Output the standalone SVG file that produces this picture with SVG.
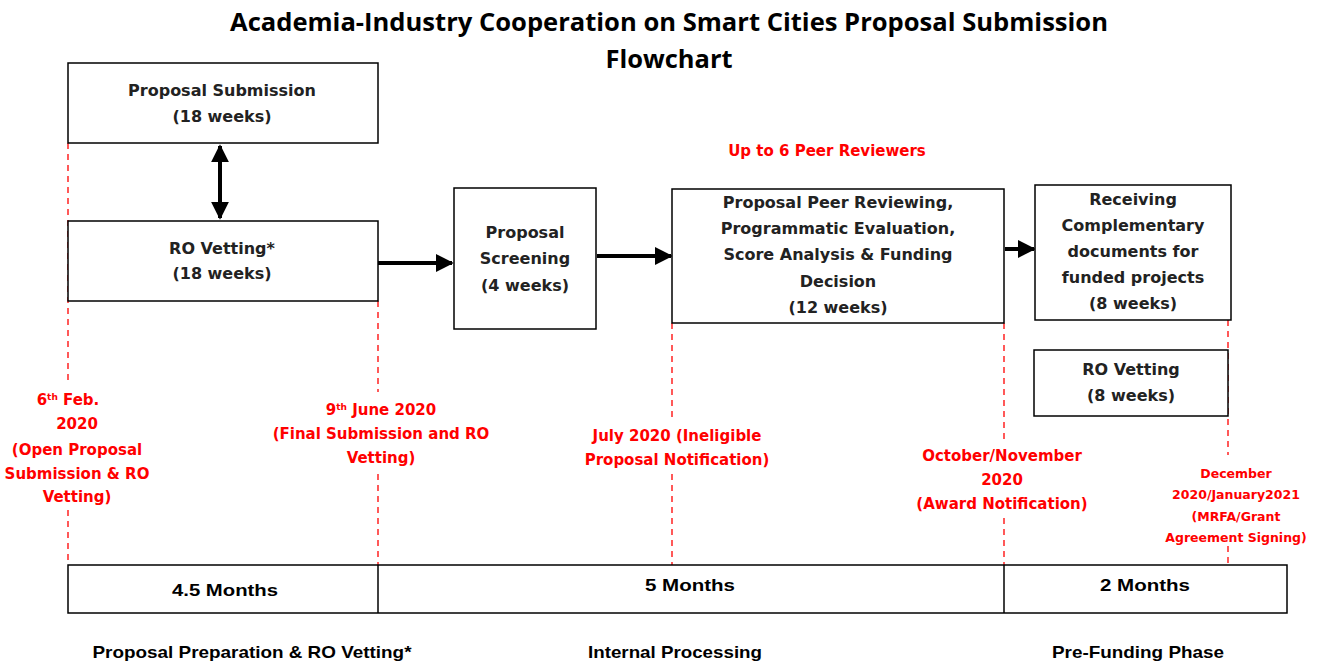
<svg xmlns="http://www.w3.org/2000/svg" width="1319" height="662" viewBox="0 0 1319 662">
<style>
.box{fill:#fff;stroke:#000;stroke-width:1.5}
.bt{font-family:"DejaVu Sans","Liberation Sans",sans-serif;font-weight:bold;font-size:16px;fill:#222;text-anchor:middle}
.rt{font-family:"DejaVu Sans","Liberation Sans",sans-serif;font-weight:bold;font-size:15px;fill:#f00;text-anchor:middle}
.rs{font-family:"DejaVu Sans","Liberation Sans",sans-serif;font-weight:bold;font-size:12.5px;fill:#f00;text-anchor:middle}
.ti{font-family:"Open Sans","DejaVu Sans",sans-serif;font-weight:bold;font-size:25px;fill:#000;text-anchor:middle}
.nt{font-family:"Liberation Sans Narrow","Liberation Sans",sans-serif;font-weight:bold;font-size:17px;fill:#000;text-anchor:middle}
.dash{stroke:#f00;stroke-width:1.3;stroke-dasharray:6,5;fill:none}
.arr{stroke:#000;stroke-width:4;fill:none}
</style>
<defs>
<marker id="ah" viewBox="0 0 10 10" refX="9" refY="5" markerWidth="4.5" markerHeight="4.5" orient="auto-start-reverse" markerUnits="strokeWidth">
<path d="M0,0 L10,5 L0,10 z" fill="#000"/>
</marker>
</defs>
<rect width="1319" height="662" fill="#fff"/>
<g id="title">
<text class="ti" x="669" y="31" textLength="878" lengthAdjust="spacingAndGlyphs">Academia-Industry Cooperation on Smart Cities Proposal Submission</text>
<text class="ti" x="669" y="68" textLength="127" lengthAdjust="spacingAndGlyphs">Flowchart</text>
</g>
<g id="dashes">
<path class="dash" d="M68,143 V385 M68,510 V565"/>
<path class="dash" d="M378,301 V392 M378,474 V565"/>
<path class="dash" d="M672,323 V420 M672,474 V565"/>
<path class="dash" d="M1004,323 V440 M1004,518 V565"/>
<path class="dash" d="M1228,320 V455 M1228,546 V565"/>
</g>
<g id="connectors">
<line class="arr" x1="220" y1="146" x2="220" y2="218" marker-start="url(#ah)" marker-end="url(#ah)"/>
<line class="arr" x1="378" y1="263" x2="452" y2="263" marker-end="url(#ah)"/>
<line class="arr" x1="597" y1="256" x2="671" y2="256" marker-end="url(#ah)"/>
<line class="arr" x1="1005" y1="249" x2="1034" y2="249" marker-end="url(#ah)"/>
</g>
<g id="n-submission">
<rect class="box" x="68" y="63" width="310" height="80"/>
<text class="bt" x="222" y="96">Proposal Submission</text>
<text class="bt" x="222" y="122">(18 weeks)</text>
</g>
<g id="n-rovetting">
<rect class="box" x="68" y="221" width="310" height="80"/>
<text class="bt" x="222" y="254">RO Vetting*</text>
<text class="bt" x="222" y="279">(18 weeks)</text>
</g>
<g id="n-screening">
<rect class="box" x="454" y="188" width="142" height="141"/>
<text class="bt" x="525" y="238">Proposal</text>
<text class="bt" x="525" y="264">Screening</text>
<text class="bt" x="525" y="291">(4 weeks)</text>
</g>
<g id="n-peer">
<rect class="box" x="672" y="189" width="332" height="134"/>
<text class="bt" x="838" y="208">Proposal Peer Reviewing,</text>
<text class="bt" x="838" y="234">Programmatic Evaluation,</text>
<text class="bt" x="838" y="260">Score Analysis &amp; Funding</text>
<text class="bt" x="838" y="287">Decision</text>
<text class="bt" x="838" y="313">(12 weeks)</text>
</g>
<text class="rt" x="827" y="156">Up to 6 Peer Reviewers</text>
<g id="n-receiving">
<rect class="box" x="1035" y="185" width="196" height="135"/>
<text class="bt" x="1133" y="205">Receiving</text>
<text class="bt" x="1133" y="231">Complementary</text>
<text class="bt" x="1133" y="257">documents for</text>
<text class="bt" x="1133" y="283">funded projects</text>
<text class="bt" x="1133" y="309">(8 weeks)</text>
</g>
<g id="n-rovetting2">
<rect class="box" x="1034" y="350" width="194" height="66"/>
<text class="bt" x="1131" y="375">RO Vetting</text>
<text class="bt" x="1131" y="401">(8 weeks)</text>
</g>
<g id="dates">
<text class="rt" x="68" y="405">6<tspan font-size="9" dy="-5">th</tspan><tspan dy="5"> Feb.</tspan></text>
<text class="rt" x="77" y="429">2020</text>
<text class="rt" x="77" y="455">(Open Proposal</text>
<text class="rt" x="77" y="479">Submission &amp; RO</text>
<text class="rt" x="77" y="502">Vetting)</text>
<text class="rt" x="381" y="415">9<tspan font-size="9" dy="-5">th</tspan><tspan dy="5"> June 2020</tspan></text>
<text class="rt" x="381" y="439">(Final Submission and RO</text>
<text class="rt" x="381" y="463">Vetting)</text>
<text class="rt" x="677" y="441">July 2020 (Ineligible</text>
<text class="rt" x="677" y="465">Proposal Notification)</text>
<text class="rt" x="1002" y="461">October/November</text>
<text class="rt" x="1002" y="485">2020</text>
<text class="rt" x="1002" y="509">(Award Notification)</text>
<text class="rs" x="1236" y="478">December</text>
<text class="rs" x="1236" y="499">2020/January2021</text>
<text class="rs" x="1236" y="521">(MRFA/Grant</text>
<text class="rs" x="1236" y="542">Agreement Signing)</text>
</g>
<g id="timeline">
<rect x="68" y="565" width="1219" height="48" fill="#fff" stroke="#000" stroke-width="1.5"/>
<line x1="378" y1="565" x2="378" y2="613" stroke="#000" stroke-width="1.5"/>
<line x1="1004" y1="565" x2="1004" y2="613" stroke="#000" stroke-width="1.5"/>
<text class="nt" x="225" y="596" textLength="106" lengthAdjust="spacingAndGlyphs">4.5 Months</text>
<text class="nt" x="690" y="591" textLength="90" lengthAdjust="spacingAndGlyphs">5 Months</text>
<text class="nt" x="1145" y="591" textLength="90" lengthAdjust="spacingAndGlyphs">2 Months</text>
<text class="nt" x="252" y="658" textLength="319" lengthAdjust="spacingAndGlyphs">Proposal Preparation &amp; RO Vetting*</text>
<text class="nt" x="675" y="658" textLength="174" lengthAdjust="spacingAndGlyphs">Internal Processing</text>
<text class="nt" x="1138" y="658" textLength="172" lengthAdjust="spacingAndGlyphs">Pre-Funding Phase</text>
</g>
</svg>
